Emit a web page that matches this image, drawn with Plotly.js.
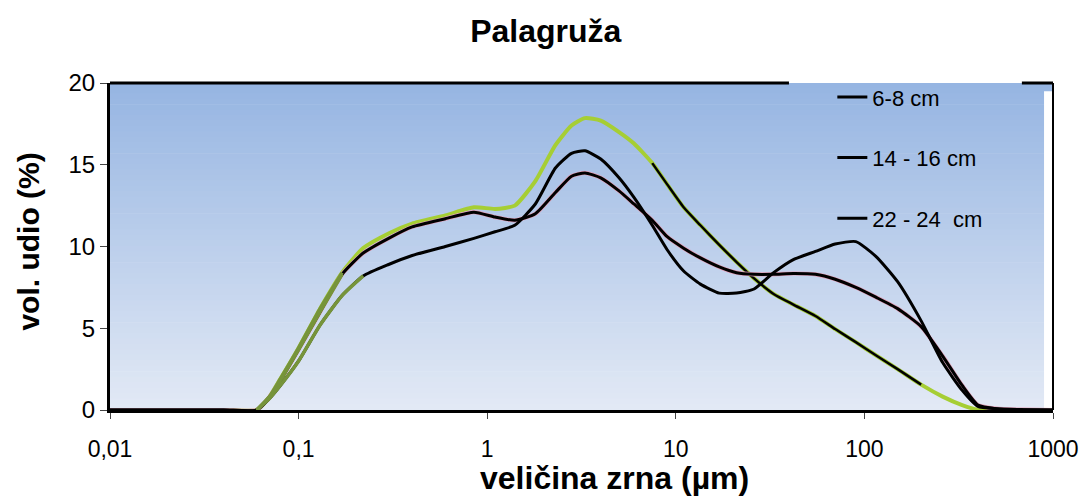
<!DOCTYPE html>
<html>
<head>
<meta charset="utf-8">
<script src="https://cdn.plot.ly/plotly-3.0.1.min.js"></script>
<style>
  html, body { margin: 0; padding: 0; background: #ffffff; }
  #chart { width: 1085px; height: 497px; }
</style>
</head>
<body>
<div id="chart"></div>
<script>
// Grain size classes (µm)
const sizes = [0.01, 0.04, 0.06, 0.07, 0.08, 0.1, 0.13, 0.17, 0.22, 0.3, 0.4, 0.6, 0.85, 1.1, 1.4, 1.8, 2.3, 2.8, 3.3, 4, 5, 6, 7.5, 9, 11, 13.5, 17, 21, 26, 33, 42, 55, 70, 90, 115, 150, 200, 260, 330, 400, 500, 700, 1000];

// Volume share (%) per depth
const depth6_8 = [0, 0, 0, 0.7, 1.5, 3.0, 5.2, 7.0, 8.2, 8.9, 9.45, 10.0, 10.5, 10.9, 11.3, 12.6, 14.8, 15.7, 15.85, 15.35, 14.2, 13.0, 11.3, 9.8, 8.5, 7.7, 7.15, 7.15, 7.4, 8.4, 9.2, 9.7, 10.15, 10.3, 9.4, 7.85, 5.45, 2.9, 1.2, 0.22, 0.08, 0.02, 0];
const depth14_16 = [0, 0, 0, 0.8, 1.8, 3.7, 6.0, 8.3, 9.6, 10.5, 11.2, 11.7, 12.1, 11.8, 11.6, 12.0, 13.3, 14.3, 14.5, 14.2, 13.4, 12.6, 11.6, 10.6, 9.9, 9.3, 8.75, 8.4, 8.3, 8.3, 8.35, 8.3, 8.0, 7.5, 6.9, 6.2, 5.1, 3.3, 1.5, 0.3, 0.08, 0.02, 0];
const depth22_24 = [0, 0, 0, 0.8, 1.9, 3.8, 6.2, 8.4, 9.9, 10.8, 11.4, 11.9, 12.4, 12.3, 12.5, 14.0, 16.2, 17.4, 17.85, 17.7, 17.0, 16.3, 15.1, 13.8, 12.4, 11.3, 10.1, 9.05, 8.05, 7.1, 6.45, 5.75, 4.95, 4.15, 3.35, 2.5, 1.55, 0.82, 0.3, 0.02, 0, 0, 0];

const seriesNames = ["6-8 cm", "14 - 16 cm", "22 - 24  cm"];
const tickValues = [0.01, 0.1, 1, 10, 100, 1000];
const tickLabels = ["0,01", "0,1", "1", "10", "100", "1000"];
const yTickValues = [0, 5, 10, 15, 20];

function subset(xs, ys, lo, hi) {
  const ox = [], oy = [];
  xs.forEach((x, i) => { if (x >= lo && x <= hi) { ox.push(x); oy.push(ys[i]); } });
  return { x: ox, y: oy };
}

const BLACK = "#000000";
const GREEN = "rgb(166,206,52)";
const OLIVE = "rgb(118,148,58)";
const PINK = "rgb(226,160,185)";
const sm = 0.55;

const cGreenDark = subset(sizes, depth22_24, 7, 200);
const aRise = subset(sizes, depth6_8, 0.06, 0.22);
const bRise = subset(sizes, depth14_16, 0.06, 0.17);
const cRise = subset(sizes, depth22_24, 0.06, 0.17);

const traces = [
  { x: sizes, y: depth22_24, type: "scatter", mode: "lines", name: seriesNames[2],
    legendgroup: "c", showlegend: false, hoverinfo: "skip",
    line: { color: GREEN, width: 4, shape: "spline", smoothing: sm } },
  { x: cGreenDark.x, y: cGreenDark.y, type: "scatter", mode: "lines", name: seriesNames[2],
    legendgroup: "c", showlegend: false,
    line: { color: BLACK, width: 2.5, shape: "spline", smoothing: sm } },
  { x: sizes, y: depth14_16, type: "scatter", mode: "lines", name: seriesNames[1],
    legendgroup: "b", showlegend: false, hoverinfo: "skip",
    line: { color: PINK, width: 4.2, shape: "spline", smoothing: sm } },
  { x: sizes, y: depth14_16, type: "scatter", mode: "lines", name: seriesNames[1],
    legendgroup: "b", showlegend: false,
    line: { color: BLACK, width: 3, shape: "spline", smoothing: sm } },
  { x: sizes, y: depth6_8, type: "scatter", mode: "lines", name: seriesNames[0],
    legendgroup: "a", showlegend: false,
    line: { color: BLACK, width: 3, shape: "spline", smoothing: sm } },
  { x: aRise.x, y: aRise.y, type: "scatter", mode: "lines", showlegend: false, hoverinfo: "skip",
    line: { color: OLIVE, width: 3.5, shape: "spline", smoothing: sm } },
  { x: bRise.x, y: bRise.y, type: "scatter", mode: "lines", showlegend: false, hoverinfo: "skip",
    line: { color: OLIVE, width: 3.5, shape: "spline", smoothing: sm } },
  { x: cRise.x, y: cRise.y, type: "scatter", mode: "lines", showlegend: false, hoverinfo: "skip",
    line: { color: OLIVE, width: 3.5, shape: "spline", smoothing: sm } },
  { x: [null], y: [null], type: "scatter", mode: "lines", name: seriesNames[0],
    legendgroup: "a", showlegend: true, line: { color: BLACK, width: 3 } },
  { x: [null], y: [null], type: "scatter", mode: "lines", name: seriesNames[1],
    legendgroup: "b", showlegend: true, line: { color: BLACK, width: 3 } },
  { x: [null], y: [null], type: "scatter", mode: "lines", name: seriesNames[2],
    legendgroup: "c", showlegend: true, line: { color: BLACK, width: 3 } }
];

const shapes = [];
const steps = 60;
const gradTop = [150, 181, 226], gradBot = [226, 233, 245];
for (let i = 0; i < steps; i++) {
  const t = i / (steps - 1);
  const c = gradTop.map((v, k) => Math.round(v + (gradBot[k] - v) * t));
  shapes.push({ type: "rect", xref: "paper", yref: "paper", layer: "below",
    x0: 0, x1: 1, y0: 1 - (i + 1) / steps, y1: Math.min(1, 1 - i / steps + 0.002),
    fillcolor: `rgb(${c[0]},${c[1]},${c[2]})`, line: { width: 0 } });
}
shapes.push({ type: "rect", xref: "paper", yref: "paper", layer: "below",
  x0: 0.9905, x1: 1, y0: 0, y1: 0.975, fillcolor: "#ffffff", line: { width: 0 } });
shapes.push({ type: "line", xref: "paper", yref: "paper", x0: 0, x1: 0.72, y0: 1, y1: 1,
  line: { color: BLACK, width: 3 } });
shapes.push({ type: "line", xref: "paper", yref: "paper", x0: 0.967, x1: 1, y0: 1, y1: 1,
  line: { color: BLACK, width: 3 } });
shapes.push({ type: "line", xref: "paper", yref: "paper", x0: 1, x1: 1, y0: 0, y1: 1,
  line: { color: BLACK, width: 2 } });

const layout = {
  width: 1085, height: 497,
  margin: { l: 110, r: 32, t: 83, b: 87 },
  paper_bgcolor: "#ffffff",
  plot_bgcolor: "rgba(0,0,0,0)",
  font: { family: "Liberation Sans, Arial, sans-serif", color: "#000000" },
  title: { text: "<b>Palagruža</b>", font: { size: 32, family: "Liberation Sans, Arial, sans-serif" },
    x: 0.503, xanchor: "center", y: 0.938, yanchor: "middle" },
  xaxis: {
    type: "log", range: [-2, 3],
    tickvals: tickValues, ticktext: tickLabels,
    ticks: "outside", ticklen: 6, tickwidth: 1, tickcolor: "#444",
    tickfont: { size: 23 }, ticklabelstandoff: 10,
    showgrid: false, zeroline: false,
    showline: true, linecolor: BLACK, linewidth: 3
  },
  yaxis: {
    range: [0, 20], tickvals: yTickValues, ticksuffix: "\u2002",
    ticks: "outside", ticklen: 7, tickwidth: 1, tickcolor: "#444",
    tickfont: { size: 24 },
    showgrid: false, zeroline: false,
    showline: true, linecolor: BLACK, linewidth: 3
  },
  legend: {
    x: 0.766, xanchor: "left", y: 1.021, yanchor: "top",
    bgcolor: "rgba(0,0,0,0)", borderwidth: 0,
    font: { size: 22 }, traceorder: "grouped", tracegroupgap: 29,
    itemwidth: 30
  },
  annotations: [
    { text: "<b>veličina zrna (µm)</b>", xref: "paper", yref: "paper",
      x: 0.5355, y: 0, xanchor: "center", yanchor: "middle", yshift: -68,
      showarrow: false, font: { size: 32 } },
    { text: "<b>vol. udio (%)</b>", xref: "paper", yref: "paper",
      x: 0, y: 0.515, xanchor: "center", yanchor: "middle", xshift: -81,
      textangle: -90, showarrow: false, font: { size: 30 } }
  ],
  shapes: shapes,
  showlegend: true
};

Plotly.newPlot("chart", traces, layout, { displayModeBar: false, staticPlot: true });
</script>
</body>
</html>
